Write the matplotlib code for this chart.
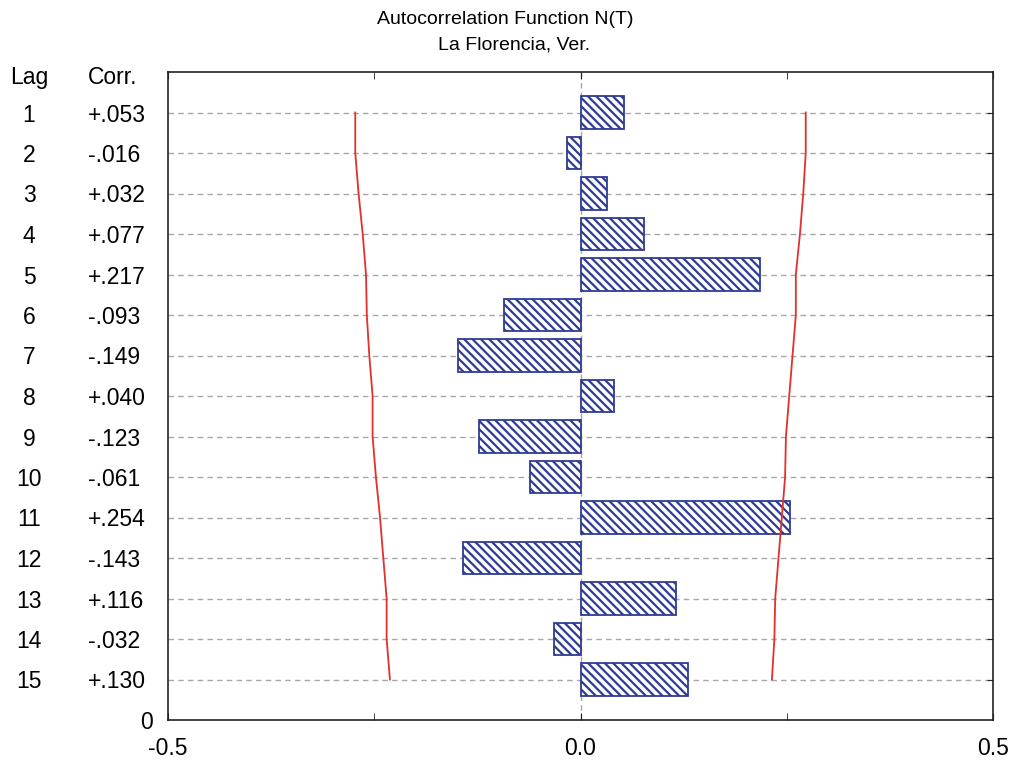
import matplotlib
matplotlib.use("Agg")
import matplotlib.pyplot as plt
from matplotlib.transforms import blended_transform_factory

plt.rcParams['font.family'] = ['Liberation Sans', 'DejaVu Sans']
plt.rcParams['hatch.linewidth'] = 1.6

lags = list(range(1, 16))
corr = [0.053, -0.016, 0.032, 0.077, 0.217, -0.093, -0.149, 0.040,
        -0.123, -0.061, 0.254, -0.143, 0.116, -0.032, 0.130]
corr_labels = ["+.053", "-.016", "+.032", "+.077", "+.217", "-.093", "-.149",
               "+.040", "-.123", "-.061", "+.254", "-.143", "+.116", "-.032", "+.130"]
lower_limit = [-0.273, -0.273, -0.269, -0.264, -0.260, -0.259, -0.256, -0.252,
               -0.252, -0.248, -0.243, -0.239, -0.235, -0.235, -0.231]
upper_limit = [0.273, 0.273, 0.270, 0.266, 0.261, 0.261, 0.257, 0.253,
               0.249, 0.248, 0.244, 0.240, 0.236, 0.235, 0.232]
x_ticks = [-0.5, 0.0, 0.5]
x_tick_labels = ["-0.5", "0.0", "0.5"]

navy = '#2f3c93'
fs = 16.5

fig = plt.figure(figsize=(10.16, 7.6), dpi=100)
ax = fig.add_axes([168/1016, 1 - 720/760, 825/1016, 648/760])

ax.set_xlim(-0.5, 0.5)
ax.set_ylim(16, 0)

# gridlines
for y in lags:
    ax.axhline(y, color='#a8a8a8', linestyle=(0, (4, 3)), linewidth=1.0, zorder=0)
ax.axvline(0, color='#a8a8a8', linestyle=(0, (4, 3)), linewidth=1.0, zorder=0)

ax.barh(lags, corr, height=0.8, left=0, color='white', edgecolor=navy,
        hatch='\\\\\\\\', linewidth=1.3, zorder=2)

ax.plot(lower_limit, lags, color='#e2302c', linewidth=1.3, zorder=3)
ax.plot(upper_limit, lags, color='#e2302c', linewidth=1.3, zorder=3)

ax.set_xticks(x_ticks)
ax.set_xticklabels(x_tick_labels, fontsize=fs)
ax.set_xticks([-0.25, 0.25], minor=True)
ax.tick_params(axis='x', which='both', direction='in', length=5, top=True,
               bottom=True, pad=12, color='#222222')
ax.set_yticks(lags)
ax.set_yticklabels([])
ax.tick_params(axis='y', which='both', direction='in', length=4, left=False,
               right=True, color='#222222')
for s in ax.spines.values():
    s.set_linewidth(1.2)
    s.set_color('#222222')

tr = blended_transform_factory(fig.transFigure, ax.transData)
fig.text(29/1016, 1 - 75/760, "Lag", ha='center', va='center_baseline', fontsize=fs)
fig.text(88/1016, 1 - 75/760, "Corr.", ha='left', va='center_baseline', fontsize=fs)
for lag, lab in zip(lags, corr_labels):
    ax.text(29/1016, lag, str(lag), transform=tr, ha='center',
            va='center_baseline', fontsize=fs)
    ax.text(88/1016, lag, lab, transform=tr, ha='left',
            va='center_baseline', fontsize=fs)
ax.text(153/1016, 16, "0", transform=tr, ha='right', va='center_baseline', fontsize=fs)

fig.text(505/1016, 1 - 19/760, "Autocorrelation Function N(T)", ha='center',
         va='center', fontsize=14)
fig.text(514/1016, 1 - 45/760, "La Florencia, Ver.", ha='center',
         va='center', fontsize=14)

fig.savefig("out.png", dpi=100, facecolor='white')
